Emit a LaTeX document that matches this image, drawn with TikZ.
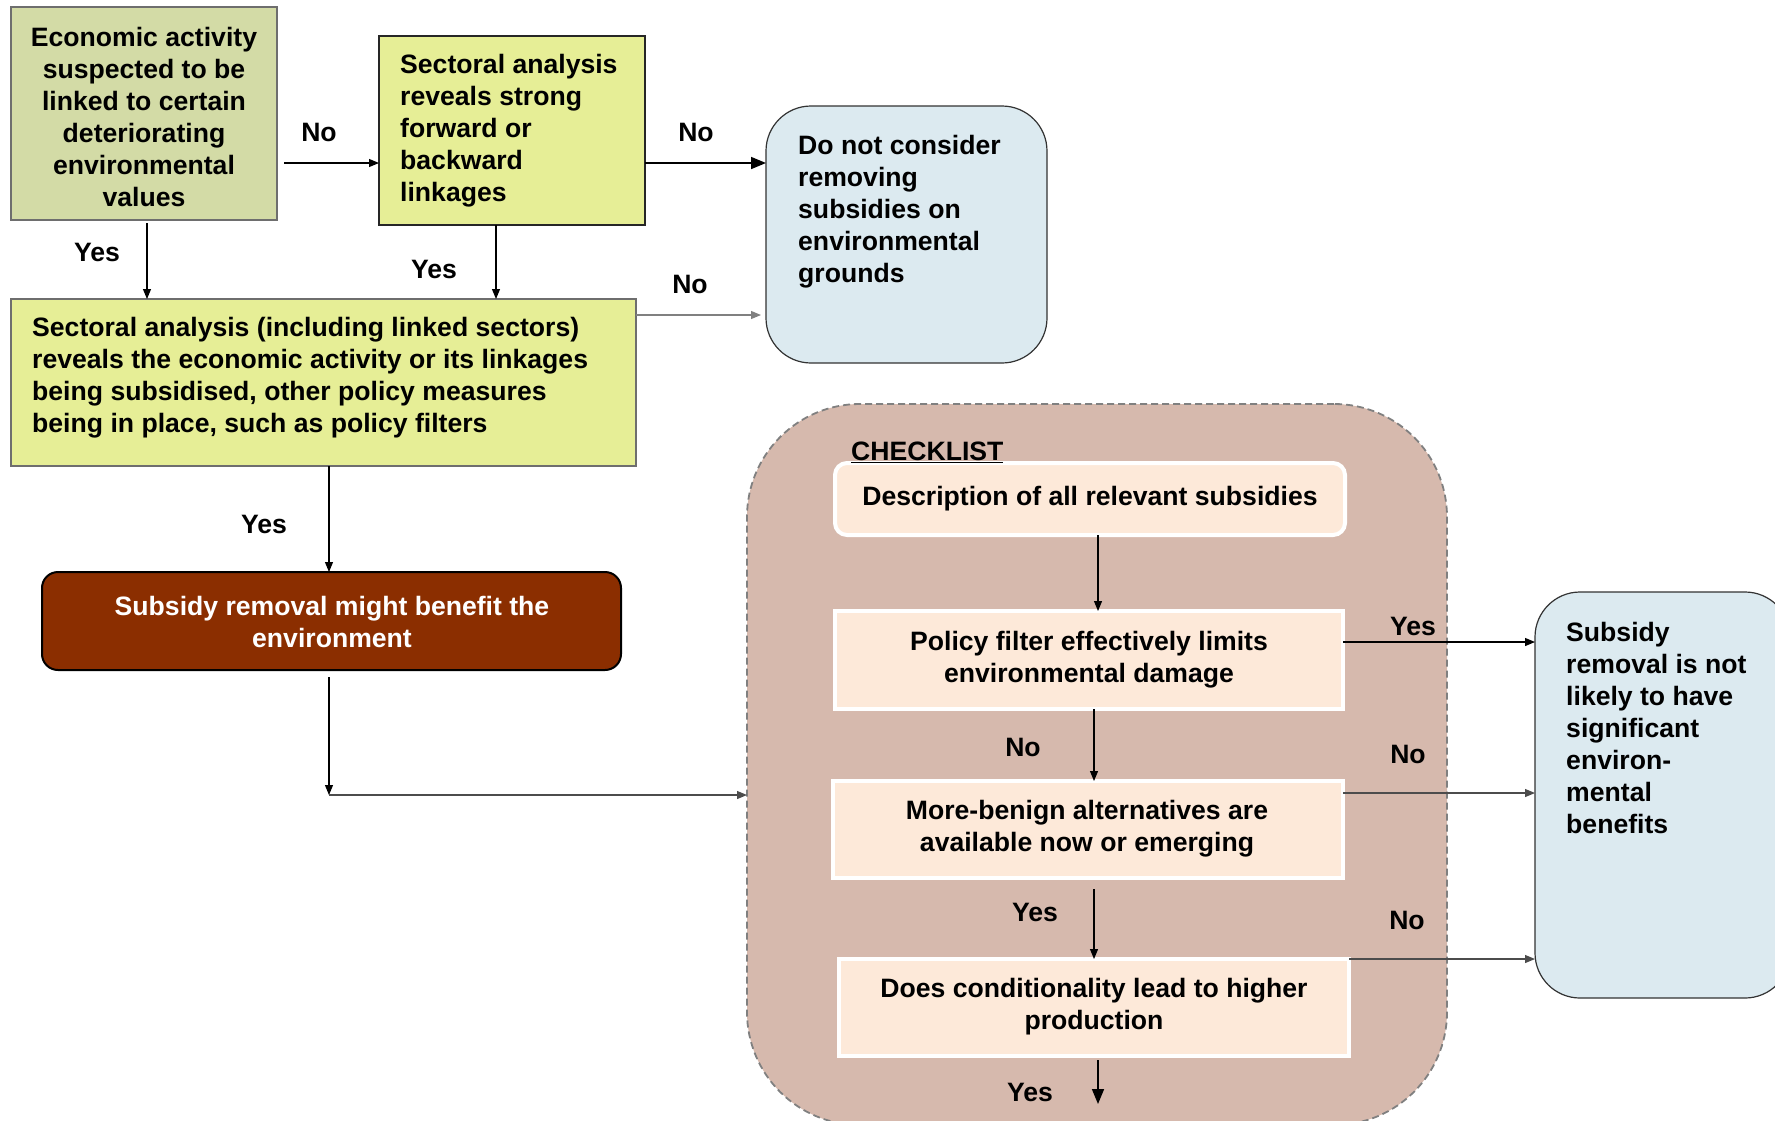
\documentclass[tikz,border=0pt]{standalone}
\usepackage{fontspec}
\setmainfont{Liberation Sans}
\usetikzlibrary{arrows.meta,calc}
\definecolor{olivebox}{RGB}{211,219,166}
\definecolor{yellowbox}{RGB}{230,238,150}
\definecolor{bluebox}{RGB}{220,234,240}
\definecolor{brownbox}{RGB}{139,46,0}
\definecolor{checkbg}{RGB}{214,185,173}
\definecolor{peach}{RGB}{253,233,217}
\definecolor{lgray}{RGB}{110,110,110}
\tikzset{
  shapebox/.style={rectangle, inner sep=0pt, outer sep=0pt, line width=1.2pt},
  txt/.style={inner sep=0pt, yshift=-3pt, font=\bfseries\fontsize{26.6}{32}\selectfont},
  lab/.style={inner sep=0pt, yshift=-2pt, font=\bfseries\fontsize{26.6}{32}\selectfont},
  inbox/.style={shapebox, fill=peach, draw=white, line width=4pt},
  arr/.style={-{Triangle[length=10pt,width=8pt]}, line width=1.1pt},
  bigarr/.style={-{Triangle[length=15pt,width=12pt]}, line width=1.6pt},
}
\begin{document}
\begin{tikzpicture}[x=1pt,y=-1pt]
\useasboundingbox (0,0) rectangle (1775,1120);
\clip (0,0) rectangle (1775,1120);

% helper coordinates
\coordinate (y163) at (0,163);
\coordinate (y315) at (0,315);
\coordinate (y642) at (0,642);
\coordinate (y793) at (0,793);
\coordinate (y959) at (0,959);
\coordinate (x147) at (147,0);
\coordinate (x496) at (496,0);
\coordinate (x329) at (329,0);
\coordinate (c1) at (329,795);
\coordinate (x1098) at (1098,0);
\coordinate (x1094) at (1094,0);
\coordinate (endd) at (1098,1104);

% boxes
\node[shapebox, fill=olivebox, draw=lgray, minimum width=266pt, minimum height=213pt] (b1) at (144,113.5) {};
\node[shapebox, fill=yellowbox, draw=black!85, minimum width=266pt, minimum height=189pt] (b2) at (512,130.5) {};
\node[shapebox, fill=bluebox, draw=black!80, rounded corners=45pt, minimum width=281pt, minimum height=257pt] (b3) at (906.5,234.5) {};
\node[shapebox, fill=yellowbox, draw=lgray, minimum width=625pt, minimum height=167pt] (b4) at (323.5,382.5) {};
\node[shapebox, fill=brownbox, draw=black, line width=2pt, rounded corners=16pt, minimum width=579pt, minimum height=98pt] (b5) at (331.5,621) {};
\node[shapebox, fill=checkbg, draw=gray, dashed, dash pattern=on 7pt off 4pt, line width=1.8pt, rounded corners=113pt, minimum width=700pt, minimum height=721pt] (chk) at (1097,764.5) {};
\node[inbox, rounded corners=12pt, minimum width=510pt, minimum height=72pt] (desc) at (1090,499) {};
\node[inbox, minimum width=508pt, minimum height=98pt] (pol) at (1089,660) {};
\node[inbox, minimum width=510pt, minimum height=97pt] (more) at (1088,829.5) {};
\node[inbox, minimum width=510pt, minimum height=97pt] (does) at (1094,1007.5) {};
\node[shapebox, fill=bluebox, draw=black!80, rounded corners=45pt, minimum width=255pt, minimum height=406pt] (rb) at (1662.5,795) {};

% texts
\node[txt, align=center] (t1) at (144,114) {Economic activity\\suspected to be\\linked to certain\\deteriorating\\environmental\\values};
\node[txt, align=left, anchor=west] (t2) at (400,128) {Sectoral analysis\\reveals strong\\forward or\\backward\\linkages};
\node[txt, align=left, anchor=west] (t3) at (798,209) {Do not consider\\removing\\subsidies on\\environmental\\grounds};
\node[txt, align=left, anchor=west] (t4) at (32,375) {Sectoral analysis (including linked sectors)\\reveals the economic activity or its linkages\\being subsidised, other policy measures\\being in place, such as policy filters};
\node[txt, align=center, text=white] (t5) at (332,619) {Subsidy removal might benefit the\\environment};
\node[txt, anchor=west] (tchk) at (851,449) {\underline{CHECKLIST}};
\node[txt] (tdesc) at (1090,496) {Description of all relevant subsidies};
\node[txt, align=center] (tpol) at (1089,657) {Policy filter effectively limits\\environmental damage};
\node[txt, align=center] (tmore) at (1087,826) {More-benign alternatives are\\available now or emerging};
\node[txt, align=center] (tdoes) at (1094,1004) {Does conditionality lead to higher\\production};
\node[txt, align=left, anchor=west] (trb) at (1566,725) {Subsidy\\removal is not\\likely to have\\significant\\environ-\\mental\\benefits};

% connectors
\draw[arr, shorten <=7pt] (b1.east |- y163) -- (b2.west |- y163);
\draw[bigarr] (b2.east |- y163) -- (b3.west |- y163);
\draw[arr, shorten <=3pt] (b1.south -| x147) -- (b4.north -| x147);
\draw[arr] (b2.south -| x496) -- (b4.north -| x496);
\draw[arr, draw=gray, shorten >=5pt] (b4.east |- y315) -- (b3.west |- y315);
\draw[arr] (b4.south -| x329) -- (b5.north -| x329);
\draw[arr, shorten <=7pt] (b5.south -| x329) -- (c1);
\draw[arr, draw=black!70] (c1) -- (chk.west |- c1);
\draw[arr] (desc.south -| x1098) -- (pol.north -| x1098);
\draw[arr] (pol.south -| x1094) -- (more.north -| x1094);
\draw[arr, shorten <=11pt] (more.south -| x1094) -- (does.north -| x1094);
\draw[bigarr, shorten <=4pt] (does.south -| x1098) -- (endd);
\draw[arr] (pol.east |- y642) -- (rb.west |- y642);
\draw[arr, draw=black!70] (more.east |- y793) -- (rb.west |- y793);
\draw[arr, draw=black!70] (does.east |- y959) -- (rb.west |- y959);

% labels
\node[lab] (l1) at (319,130) {No};
\node[lab] (l2) at (696,130) {No};
\node[lab] (l3) at (97,250) {Yes};
\node[lab] (l4) at (434,267) {Yes};
\node[lab] (l5) at (690,282) {No};
\node[lab] (l6) at (264,522) {Yes};
\node[lab] (l7) at (1023,745) {No};
\node[lab] (l8) at (1035,910) {Yes};
\node[lab] (l9) at (1030,1090) {Yes};
\node[lab] (l10) at (1413,624) {Yes};
\node[lab] (l11) at (1408,752) {No};
\node[lab] (l12) at (1407,918) {No};
\end{tikzpicture}
\end{document}
